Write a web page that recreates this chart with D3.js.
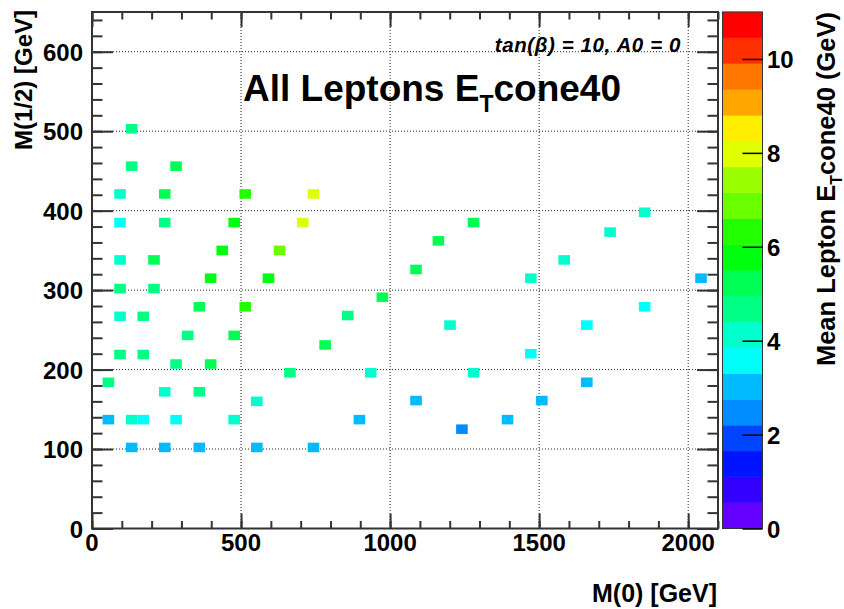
<!DOCTYPE html>
<html><head><meta charset="utf-8">
<script src="https://cdn.jsdelivr.net/npm/d3@7"></script>
<style>
body{margin:0;background:#fff}
svg{display:block}
text{font-family:"Liberation Sans",Arial,Helvetica,sans-serif;font-weight:bold;fill:#000}
</style>
</head><body>
<svg id="chart" width="844" height="609"></svg>
<script>
// ---- data ----
const m0 = [133,133,282,94,244,514,743,94,244,477,707,1280,437,629,1162,1854,1738,94,208,1584,
            1087,398,592,1472,2043,94,208,974,360,514,1854,94,172,858,1201,1660,321,477,782,94,
            172,1472,282,398,664,935,1280,55,1660,244,360,553,1087,1509,55,133,172,282,477,897,
            1394,1241,133,244,360,553,743];
const m12 = [503,456,456,421,421,421,421,385,385,385,385,385,350,350,362,398,373,338,338,338,
             326,315,315,315,315,302,302,291,279,279,279,267,267,268,256,256,243,243,231,219,
             219,220,207,207,196,196,196,184,184,172,172,160,161,161,137,137,137,137,137,137,
             137,125,102,102,102,102,102];
const etCone = [4.7,4.7,5.2,4.1,5.2,6.3,8.0,3.6,4.7,5.8,8.0,5.2,5.8,6.9,5.2,4.1,4.1,4.1,5.2,4.1,
                5.2,5.8,5.8,4.1,3.0,4.7,4.7,5.2,5.2,6.3,3.6,4.1,4.7,4.7,4.1,3.6,4.7,5.2,5.2,4.7,
                4.7,3.6,4.7,5.2,4.7,4.1,4.1,4.7,3.0,4.1,4.7,4.1,3.0,3.0,3.0,4.1,3.6,3.6,4.1,3.0,
                3.0,2.5,3.0,3.0,3.0,3.0,3.0];
const xTickValues = [0,500,1000,1500,2000];
const yTickValues = [0,100,200,300,400,500,600];
const zTickValues = [0,2,4,6,8,10];
const palette = ["#6300ff","#3300ff","#0014ff","#0044ff","#008bff","#00bbff","#00fffb","#00ffcc",
                 "#00ff85","#00ff55","#00ff0e","#22ff00","#69ff00","#99ff00","#e0ff00","#ffee00",
                 "#ffa700","#ff7700","#ff3000","#ff0000"];
const xDomain = [0,2100], yDomain = [0,650], zDomain = [0,11];
const nBins = 54;

// ---- layout ----
const svg = d3.select("#chart");
const L = 92, R = 718, T = 12, B = 528.5;
const x = d3.scaleLinear().domain(xDomain).range([L,R]);
const y = d3.scaleLinear().domain(yDomain).range([B,T]);
const z = d3.scaleLinear().domain(zDomain).range([B,T]);
const nLev = palette.length;
const levW = (zDomain[1]-zDomain[0])/nLev;
const colorOf = v => palette[Math.max(0,Math.min(nLev-1,Math.floor(v/levW)))];
const bw = (xDomain[1]-xDomain[0])/nBins, bh = (yDomain[1]-yDomain[0])/nBins;

// grid
const grid = svg.append("g").attr("stroke","#222").attr("stroke-width",1).attr("stroke-dasharray","1,2");
grid.selectAll("line.gx").data(xTickValues.filter(d=>d>0)).join("line")
  .attr("x1",d=>x(d)).attr("x2",d=>x(d)).attr("y1",T).attr("y2",B);
grid.selectAll("line.gy").data(yTickValues.filter(d=>d>0)).join("line")
  .attr("x1",L).attr("x2",R).attr("y1",d=>y(d)).attr("y2",d=>y(d));

// cells
const cells = m0.map((v,i)=>({x:v,y:m12[i],z:etCone[i]}));
svg.append("g").selectAll("rect").data(cells).join("rect")
  .attr("x",d=>x(d.x-bw/2)).attr("y",d=>y(d.y+bh/2))
  .attr("width",d=>x(d.x+bw/2)-x(d.x-bw/2)).attr("height",d=>y(d.y-bh/2)-y(d.y+bh/2))
  .attr("fill",d=>colorOf(d.z));

// axes with d3 axis generators (ticks inward)
const axCol = "#333";
function styleAxis(g){ g.select(".domain").remove(); g.selectAll("line").attr("stroke",axCol).attr("stroke-width",2); }
const xMinor = d3.range(0,2101,100), yMinor = d3.range(0,651,20);
svg.append("g").attr("transform",`translate(0,${B})`)
  .call(d3.axisTop(x).tickValues(xMinor).tickSize(7.5).tickFormat("")).call(styleAxis);
svg.append("g").attr("transform",`translate(0,${B})`)
  .call(d3.axisTop(x).tickValues(xTickValues).tickSize(15).tickFormat("")).call(styleAxis);
svg.append("g").attr("transform",`translate(0,${T})`)
  .call(d3.axisBottom(x).tickValues(xMinor).tickSize(7.5).tickFormat("")).call(styleAxis);
svg.append("g").attr("transform",`translate(0,${T})`)
  .call(d3.axisBottom(x).tickValues(xTickValues).tickSize(15).tickFormat("")).call(styleAxis);
svg.append("g").attr("transform",`translate(${L},0)`)
  .call(d3.axisRight(y).tickValues(yMinor).tickSize(10.5).tickFormat("")).call(styleAxis);
svg.append("g").attr("transform",`translate(${L},0)`)
  .call(d3.axisRight(y).tickValues(yTickValues).tickSize(21).tickFormat("")).call(styleAxis);
svg.append("g").attr("transform",`translate(${R},0)`)
  .call(d3.axisLeft(y).tickValues(yMinor).tickSize(10.5).tickFormat("")).call(styleAxis);
svg.append("g").attr("transform",`translate(${R},0)`)
  .call(d3.axisLeft(y).tickValues(yTickValues).tickSize(21).tickFormat("")).call(styleAxis);

// frame
svg.append("rect").attr("x",L).attr("y",T).attr("width",R-L).attr("height",B-T)
  .attr("fill","none").attr("stroke",axCol).attr("stroke-width",2);

// tick labels
svg.append("g").selectAll("text").data(xTickValues).join("text")
  .attr("x",d=>x(d)).attr("y",551).attr("text-anchor","middle").attr("font-size",24).text(d=>d);
svg.append("g").selectAll("text").data(yTickValues).join("text")
  .attr("x",83).attr("y",d=>y(d)+9).attr("text-anchor","end").attr("font-size",24).text(d=>d);

// colour bar
const CL = 722.5, CR = 762.5;
const levels = d3.range(nLev).map(k=>k*levW);
svg.append("g").selectAll("rect").data(levels).join("rect")
  .attr("x",CL).attr("width",CR-CL)
  .attr("y",d=>z(d+levW)).attr("height",d=>z(d)-z(d+levW))
  .attr("fill",(d,i)=>palette[i]).attr("stroke",(d,i)=>palette[i]).attr("stroke-width",0.5);
svg.append("rect").attr("x",CL).attr("y",T).attr("width",CR-CL).attr("height",B-T)
  .attr("fill","none").attr("stroke","#333").attr("stroke-width",1);
svg.append("g").attr("transform",`translate(${CR},0)`)
  .call(d3.axisLeft(z).tickValues(zTickValues).tickSize(20).tickFormat(""))
  .call(g=>{g.select(".domain").remove(); g.selectAll("line").attr("stroke","#000").attr("stroke-width",1.5);});
svg.append("g").selectAll("text").data(zTickValues).join("text")
  .attr("x",767).attr("y",d=>z(d)+9).attr("font-size",24).text(d=>d);

// titles
const title = svg.append("text").attr("x",243).attr("y",101).attr("font-size",37);
title.append("tspan").text("All Leptons E");
title.append("tspan").attr("font-size",23).attr("dy",11).text("T");
title.append("tspan").attr("dy",-11).text("cone40");

svg.append("text").attr("x",681).attr("y",52).attr("text-anchor","end")
  .attr("font-size",20.5).attr("font-style","italic").attr("letter-spacing",0.6)
  .text("tan(β) = 10, A0 = 0");

svg.append("text").attr("transform","translate(32,10) rotate(-90)").attr("text-anchor","end")
  .attr("font-size",24).text("M(1/2) [GeV]");

svg.append("text").attr("x",717).attr("y",602).attr("text-anchor","end")
  .attr("font-size",25).text("M(0) [GeV]");

const zl = svg.append("text").attr("transform","translate(835,12) rotate(-90)")
  .attr("text-anchor","end").attr("font-size",25.5);
zl.append("tspan").text("Mean Lepton E");
zl.append("tspan").attr("font-size",16).attr("dy",7).text("T");
zl.append("tspan").attr("dy",-7).text("cone40 (GeV)");
</script>
</body></html>
